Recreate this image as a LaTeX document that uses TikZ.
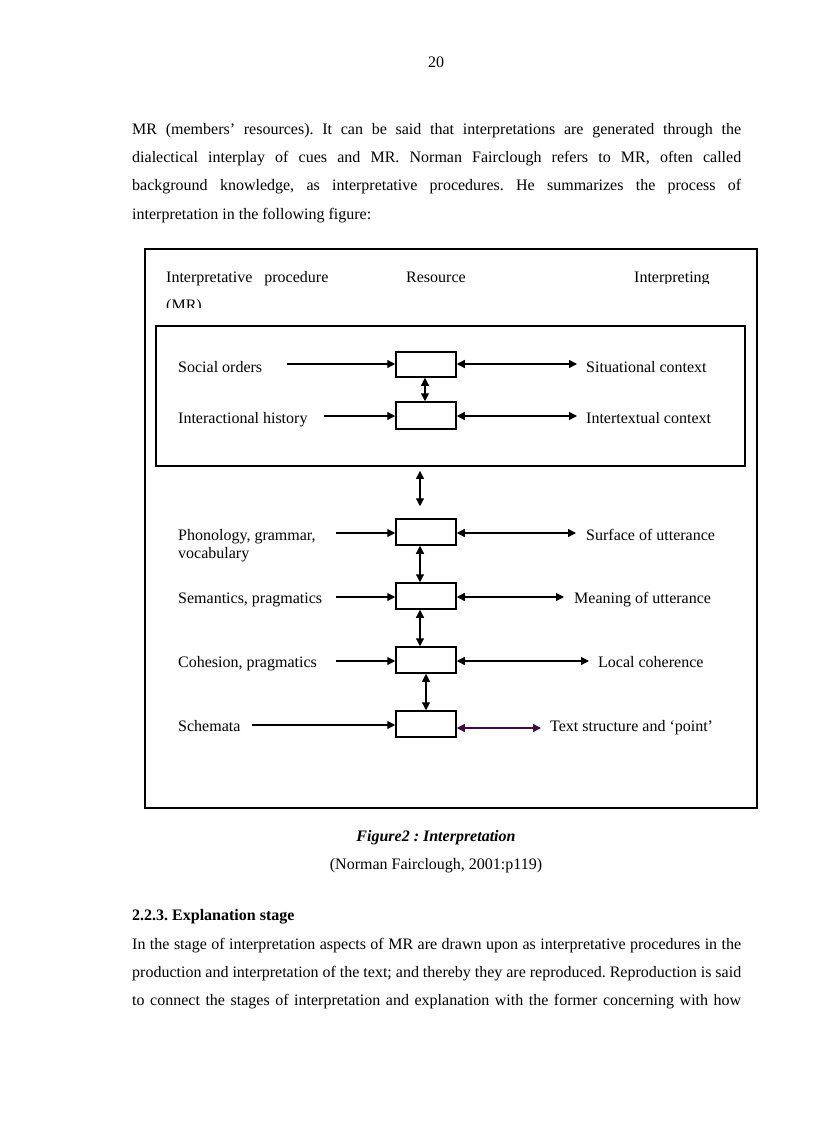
\documentclass[tikz,border=0pt]{standalone}
\usepackage{fontspec}
\setmainfont{Liberation Serif}
\usetikzlibrary{arrows.meta,calc}
\definecolor{linepurple}{rgb}{0.25,0.04,0.25}
\frenchspacing
\begin{document}
\begin{tikzpicture}[x=1pt,y=-1pt,
  txt/.style={anchor=base west, inner sep=0pt, font=\fontsize{16}{19}\selectfont},
  ctxt/.style={anchor=base, inner sep=0pt, font=\fontsize{16}{19}\selectfont},
  resbox/.style={draw, line width=1.5pt, minimum width=60pt, minimum height=26pt, inner sep=0pt},
  framebox/.style={draw, line width=1.5pt, inner sep=0pt},
  arr/.style={line width=1.2pt, -{Triangle[length=8pt,width=8pt]}},
  darr/.style={line width=1.2pt, {Triangle[length=8pt,width=8pt]}-{Triangle[length=8pt,width=8pt]}},
]
\useasboundingbox (0,0) rectangle (816,1123);

% page text
\node[ctxt] (pnum) at (436,68) {20};
\node[txt] (p1) at (132,135) {\makebox[609pt][s]{MR (members’ resources). It can be said that interpretations are generated through the}};
\node[txt] (p2) at (132,163) {\makebox[609pt][s]{dialectical interplay of cues and MR. Norman Fairclough refers to MR, often called}};
\node[txt] (p3) at (132,191) {\makebox[609pt][s]{background knowledge, as interpretative procedures. He summarizes the process of}};
\node[txt] (p4) at (132,219) {interpretation in the following figure:};

% frames
\node[framebox, minimum width=612pt, minimum height=559pt] (outer) at (451,528.5) {};
\node[framebox, line width=1.8pt, minimum width=589pt, minimum height=140pt] (inner) at (450.5,396) {};

% header
\node[txt] (h1) at (166,282) {Interpretative\hspace{12pt}procedure};
\node[txt] (h2) at (406,282) {Resource};
\begin{scope}
  \clip (600,255) rectangle (750,283.5);
  \node[txt] (h3) at (634,282) {Interpreting};
\end{scope}
\begin{scope}
  \clip (160,290) rectangle (260,307);
  \node[txt] (h4) at (166,310) {(MR)};
\end{scope}

% resource boxes
\node[resbox, minimum height=25pt] (b1) at (426,364.5) {};
\node[resbox, minimum height=27pt] (b2) at (426,415.5) {};
\node[resbox] (b3) at (426,532) {};
\node[resbox] (b4) at (426,596) {};
\node[resbox] (b5) at (426,660) {};
\node[resbox] (b6) at (426,724) {};

% left labels
\node[txt] (l1t) at (178,372) {Social orders};
\node[txt] (l2t) at (178,423) {Interactional history};
\node[txt] (l3t) at (178,540) {Phonology, grammar,};
\node[txt] (l3u) at (178,558) {vocabulary};
\node[txt] (l4t) at (178,603) {Semantics, pragmatics};
\node[txt] (l5t) at (178,667) {Cohesion, pragmatics};
\node[txt] (l6t) at (178,731) {Schemata};

% right labels
\node[txt] (r1t) at (586,372) {Situational context};
\node[txt] (r2t) at (586,423) {Intertextual context};
\node[txt] (r3t) at (586,540) {Surface of utterance};
\node[txt] (r4t) at (574,603) {Meaning of utterance};
\node[txt] (r5t) at (598,667) {Local coherence};
\node[txt] (r6t) at (550,731) {Text structure and ‘point’};

% arrow end coordinates
\coordinate (l1) at (287,364);
\coordinate (l2) at (324,416);
\coordinate (l3) at (336,533);
\coordinate (l4) at (336,597);
\coordinate (l5) at (336,661);
\coordinate (l6) at (252,725);
\coordinate (r1) at (577,364);
\coordinate (r2) at (577,416);
\coordinate (r3) at (576,533);
\coordinate (r4) at (564,597);
\coordinate (r5) at (589,661);
\coordinate (r6) at (541,728);

% left arrows
\foreach \i in {1,...,6} {
  \draw[arr] (l\i) -- (l\i -| b\i.west);
}
% right arrows
\foreach \i in {1,...,5} {
  \draw[darr] (r\i -| b\i.east) -- (r\i);
}
\draw[darr, color=linepurple] (r6 -| b6.east) -- (r6);

% vertical arrows
\draw[darr] ($(b1.south)+(-1,0)$) -- ($(b2.north)+(-1,0)$);
\draw[darr] ($(inner.south)+(-30.5,4)$) -- ($(b3.north)+(-6,-12)$);
\draw[darr] ($(b3.south)+(-6,0)$) -- ($(b4.north)+(-6,0)$);
\draw[darr] ($(b4.south)+(-6,0)$) -- ($(b5.north)+(-6,0)$);
\draw[darr] (b5.south) -- (b6.north);

% caption and following text
\node[ctxt] (cap) at (436,841) {\textbf{\textit{Figure2 : Interpretation}}};
\node[ctxt] (src) at (436,869) {(Norman Fairclough, 2001:p119)};
\node[txt] (sec) at (132,920) {\textbf{2.2.3. Explanation stage}};
\node[txt] (q1) at (132,949) {\makebox[609pt][s]{In the stage of interpretation aspects of MR are drawn upon as interpretative procedures in the}};
\node[txt] (q2) at (132,977) {\makebox[609pt][s]{production and interpretation of the text; and thereby they are reproduced. Reproduction is said}};
\node[txt] (q3) at (132,1005) {\makebox[609pt][s]{to connect the stages of interpretation and explanation with the former concerning with how}};
\end{tikzpicture}
\end{document}
